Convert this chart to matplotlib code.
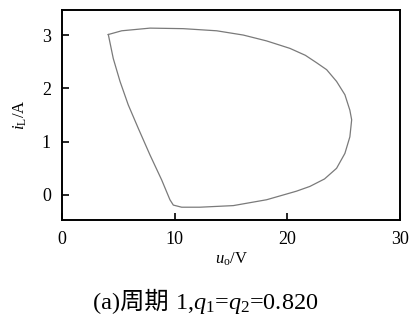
import matplotlib
matplotlib.use("Agg")
import matplotlib.pyplot as plt

# phase trajectory (u_o, i_L), closed loop
u_o = [4.11, 5.30, 7.81, 10.76, 13.73, 16.09, 18.16, 20.23, 21.6, 22.6,
       23.49, 24.37, 25.11, 25.55, 25.71, 25.55, 25.11, 24.37, 23.3, 22.0,
       20.8, 18.16, 15.2, 12.24, 10.62, 9.88, 9.58, 8.85, 7.81, 6.77,
       5.88, 5.15, 4.55, 4.11]
i_L = [3.01, 3.08, 3.13, 3.12, 3.08, 3.00, 2.89, 2.75, 2.62, 2.48,
       2.35, 2.13, 1.88, 1.59, 1.41, 1.09, 0.78, 0.50, 0.30, 0.16,
       0.07, -0.09, -0.20, -0.23, -0.23, -0.19, -0.09, 0.28, 0.75, 1.25,
       1.69, 2.13, 2.56, 3.01]

x_ticks = [0, 10, 20, 30]
y_ticks = [0, 1, 2, 3]

plt.rcParams["font.family"] = ["Liberation Serif", "Noto Sans CJK SC"]
plt.rcParams["mathtext.fontset"] = "custom"
plt.rcParams["mathtext.rm"] = "Liberation Serif"
plt.rcParams["mathtext.it"] = "Liberation Serif:italic"

fig = plt.figure(figsize=(4.09, 3.20), dpi=100)
ax = fig.add_axes([62 / 409, 100 / 320, 338 / 409, 210 / 320])

ax.plot(u_o, i_L, color="#7a7a7a", linewidth=0.9)

ax.set_xlim(0, 30)
ax.set_ylim(-0.47, 3.47)
ax.set_xticks(x_ticks)
ax.set_yticks(y_ticks)
ax.tick_params(direction="in", length=5, width=1.2, labelsize=13)
ax.tick_params(axis="x", pad=8)
ax.tick_params(axis="y", pad=8)
for s in ax.spines.values():
    s.set_linewidth(1.4)

ax.set_xlabel(r"$u_\mathrm{o}$/V", fontsize=12, labelpad=2)
ax.set_ylabel(r"$i_\mathrm{L}$/A", fontsize=12, labelpad=9)

# caption, built in two pieces so the CJK part can fall back to a CJK font
t1 = fig.text(0, 11 / 320, "(a)周期 ", fontsize=17.5, va="baseline")
fig.canvas.draw()
r = fig.canvas.get_renderer()
b1 = t1.get_window_extent(r)
t2 = fig.text(b1.x1 / 409, 11 / 320, r"1,$q_1$=$q_2$=0.820", fontsize=17.5,
              va="baseline", family="Liberation Serif")
fig.canvas.draw()
b2 = t2.get_window_extent(r)
shift = 206 - (b1.x0 + b2.x1) / 2
t1.set_x(t1.get_position()[0] + shift / 409)
t2.set_x(t2.get_position()[0] + shift / 409)

fig.savefig("out.png", dpi=100)
